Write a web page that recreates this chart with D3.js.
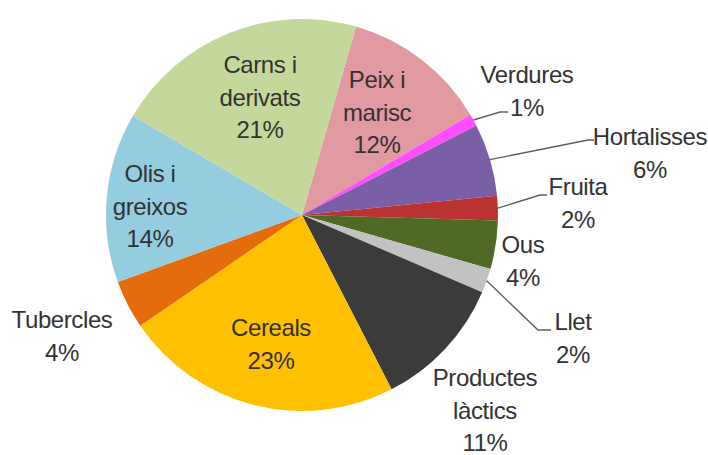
<!DOCTYPE html>
<html>
<head>
<meta charset="utf-8">
<script src="https://cdn.jsdelivr.net/npm/d3@7"></script>
<style>
  html, body { margin: 0; padding: 0; background: #fff; }
  svg { display: block; }
  text { font-family: "Liberation Sans", Arial, sans-serif; font-size: 24px; letter-spacing: -0.4px; fill: #333; }
</style>
</head>
<body>
<svg id="chart" width="708" height="455"></svg>
<script>
// Food groups, in clockwise order starting from "Peix i marisc"
const categories = ["Peix i marisc", "Verdures", "Hortalisses", "Fruita", "Ous", "Llet",
                    "Productes làctics", "Cereals", "Tubercles", "Olis i greixos", "Carns i derivats"];
const values = [12, 1, 6, 2, 4, 2, 11, 23, 4, 14, 21];
// Label lines (the percentage is added as the last line)
const labelLines = [
  ["Peix i", "marisc"], ["Verdures"], ["Hortalisses"], ["Fruita"], ["Ous"], ["Llet"],
  ["Productes", "làctics"], ["Cereals"], ["Tubercles"], ["Olis i", "greixos"], ["Carns i", "derivats"]
];
const colors = ["#e09aa0", "#ff4dff", "#7b5fa6", "#bb3232", "#4e6a24", "#c2c2c2",
                "#3b3b3b", "#ffc000", "#e56c0c", "#95cde0", "#c4d89c"];

// Layout
const width = 708, height = 455;
const cx = 302, cy = 215, radius = 196;
const startDeg = 16;
const lineH = 32.5;

// Label block anchors (center x, first baseline y), relative to pie center
const labelAt = {
  "Peix i marisc": [75, -127],
  "Verdures": [225, -132],
  "Hortalisses": [348, -70],
  "Fruita": [276, -20],
  "Ous": [221, 38],
  "Llet": [271, 115],
  "Productes làctics": [183, 171],
  "Cereals": [-31, 121],
  "Tubercles": [-240, 113],
  "Olis i greixos": [-152, -33],
  "Carns i derivats": [-42, -142]
};
// Leader lines for the thin slices: elbow and end points, relative to pie center
const leaders = {
  "Verdures": [[198, -103], [206, -103]],
  "Hortalisses": [[286, -75], [292, -75]],
  "Fruita": [[238, -20], [245, -20]],
  "Llet": [[236, 115], [249, 115]]
};

const data = categories.map((c, i) => ({ name: c, value: values[i], color: colors[i], lines: labelLines[i] }));

const svg = d3.select("#chart");
const g = svg.append("g").attr("transform", `translate(${cx},${cy})`);

const pie = d3.pie()
  .sort(null)
  .value(d => d.value)
  .startAngle(startDeg * Math.PI / 180)
  .endAngle(startDeg * Math.PI / 180 + 2 * Math.PI);

const arc = d3.arc().innerRadius(0).outerRadius(radius);
const arcs = pie(data);

g.selectAll("path.slice")
  .data(arcs)
  .join("path")
  .attr("class", "slice")
  .attr("d", arc)
  .attr("fill", d => d.data.color);

// Leader lines from the slice edge to the label
const edge = d3.arc().innerRadius(radius).outerRadius(radius);
g.selectAll("polyline.leader")
  .data(arcs.filter(d => leaders[d.data.name]))
  .join("polyline")
  .attr("class", "leader")
  .attr("fill", "none")
  .attr("stroke", "#5e5e5e")
  .attr("stroke-width", 1.4)
  .attr("points", d => {
    const p0 = edge.centroid(d);
    const [e, f] = leaders[d.data.name];
    return [p0, e, f].map(p => p.join(",")).join(" ");
  });

// Category labels with percentages
const labels = g.selectAll("text.label")
  .data(arcs)
  .join("text")
  .attr("class", "label")
  .attr("text-anchor", "middle")
  .attr("transform", d => `translate(${labelAt[d.data.name][0]},${labelAt[d.data.name][1]})`);

labels.each(function (d) {
  const t = d3.select(this);
  const lines = d.data.lines.concat([d.data.value + "%"]);
  lines.forEach((s, i) => {
    t.append("tspan").attr("x", 0).attr("y", i * lineH).text(s);
  });
});
</script>
</body>
</html>
